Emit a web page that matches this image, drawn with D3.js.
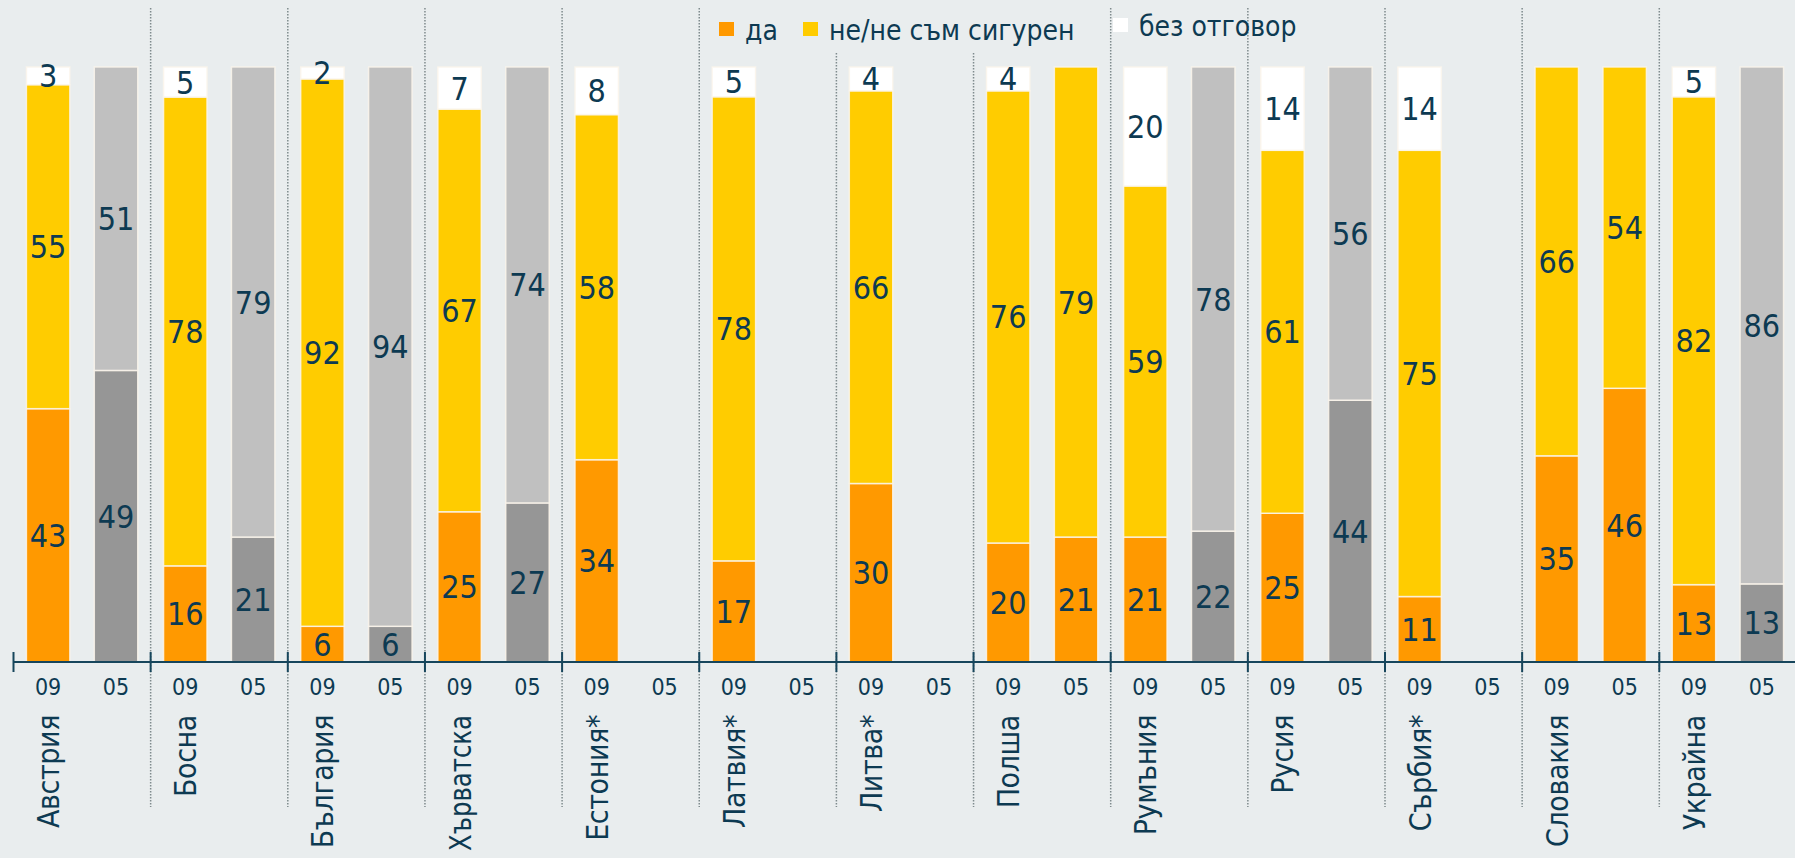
<!DOCTYPE html>
<html>
<head>
<meta charset="utf-8">
<script src="https://cdn.jsdelivr.net/npm/d3@7"></script>
<style>
  html, body { margin: 0; padding: 0; background: #e9edee; }
  svg { display: block; }
  text { font-family: "DejaVu Sans Condensed", "DejaVu Sans", sans-serif; fill: #0d3a52; }
</style>
</head>
<body>
<div id="chart"></div>
<script>
// data (percent)
var countries = ["Австрия", "Босна", "България", "Хърватска", "Естония*", "Латвия*", "Литва*",
                 "Полша", "Румъния", "Русия", "Сърбия*", "Словакия", "Украйна"];
var years = ["09", "05"];

var yes09 = [43, 16, 6, 25, 34, 17, 30, 20, 21, 25, 11, 35, 13];
var unsure09 = [55, 78, 92, 67, 58, 78, 66, 76, 59, 61, 75, 66, 82];
var noAnswer09 = [3, 5, 2, 7, 8, 5, 4, 4, 20, 14, 14, 0, 5];

var yes05 = [49, 21, 6, 27, null, null, null, 21, 22, 44, null, 46, 13];
var unsure05 = [51, 79, 94, 74, null, null, null, 79, 78, 56, null, 54, 86];

var legendLabels = ["да", "не/не съм сигурен", "без отговор"];

// 2005 bars shown in full colour, the rest in grey
var colour05 = ["Полша", "Словакия"];

var width = 1795, height = 858;
var colors = { yes: "#ff9900", unsure: "#ffcc00", none: "#ffffff", yesGrey: "#969696", unsureGrey: "#c0c0c0" };

var svg = d3.select("#chart").append("svg")
    .attr("width", width)
    .attr("height", height);

var x = d3.scaleBand()
    .domain(countries)
    .range([13.5, 13.5 + countries.length * 137.15]);

var xYear = d3.scaleBand()
    .domain(years)
    .range([0, x.bandwidth()])
    .paddingInner(0.36)
    .paddingOuter(0.19);

var y = d3.scaleLinear()
    .domain([0, 100])
    .range([662, 67]);

// build stacked rows, each bar normalised to 100
var rows = [];
countries.forEach(function (c, i) {
  var segs09 = [
    { key: "yes", v: yes09[i], fill: colors.yes },
    { key: "unsure", v: unsure09[i], fill: colors.unsure },
    { key: "none", v: noAnswer09[i], fill: colors.none }
  ];
  rows.push({ country: c, year: "09", segs: segs09 });
  if (yes05[i] != null) {
    var full = colour05.indexOf(c) >= 0;
    rows.push({ country: c, year: "05", segs: [
      { key: "yes", v: yes05[i], fill: full ? colors.yes : colors.yesGrey },
      { key: "unsure", v: unsure05[i], fill: full ? colors.unsure : colors.unsureGrey }
    ]});
  }
});
rows.forEach(function (r) {
  var total = d3.sum(r.segs, function (s) { return s.v; });
  var acc = 0;
  r.segs.forEach(function (s) {
    s.y0 = acc / total * 100;
    acc += s.v;
    s.y1 = acc / total * 100;
  });
});

// dotted separators between countries
svg.append("g")
  .selectAll("line")
  .data(countries.slice(1))
  .enter().append("line")
    .attr("x1", function (d) { return x(d); })
    .attr("x2", function (d) { return x(d); })
    .attr("y1", 8)
    .attr("y2", 807)
    .attr("stroke", "#7f8b8d")
    .attr("stroke-width", 1.5)
    .attr("stroke-dasharray", "1.5,1.5");

// legend background hides the separators under it
svg.append("rect")
    .attr("x", 701).attr("y", 0)
    .attr("width", 407).attr("height", 52)
    .attr("fill", "#e9edee");

var legendPos = [{ x: 719, y: 40 }, { x: 803, y: 40 }, { x: 1113, y: 36 }];
var legendFill = [colors.yes, colors.unsure, colors.none];
var lg = svg.append("g").selectAll("g")
  .data(legendLabels)
  .enter().append("g")
    .attr("transform", function (d, i) { return "translate(" + legendPos[i].x + "," + legendPos[i].y + ")"; });
lg.append("rect")
    .attr("x", 0).attr("y", -18)
    .attr("width", 15).attr("height", 14)
    .attr("fill", function (d, i) { return legendFill[i]; });
lg.append("text")
    .attr("x", 26)
    .attr("font-size", 28)
    .text(function (d) { return d; });

// bars
var bars = svg.append("g")
  .selectAll("g")
  .data(rows)
  .enter().append("g")
    .attr("transform", function (d) { return "translate(" + (x(d.country) + xYear(d.year)) + ",0)"; });

bars.selectAll("rect")
  .data(function (d) { return d.segs.filter(function (s) { return s.v > 0; }); })
  .enter().append("rect")
    .attr("x", 0)
    .attr("width", xYear.bandwidth())
    .attr("y", function (s) { return y(s.y1); })
    .attr("height", function (s) { return y(s.y0) - y(s.y1); })
    .attr("fill", function (s) { return s.fill; })
    .attr("stroke", "rgba(250,245,235,0.85)")
    .attr("stroke-width", 1.5);

bars.selectAll("text")
  .data(function (d) { return d.segs.filter(function (s) { return s.v > 0; }); })
  .enter().append("text")
    .attr("x", xYear.bandwidth() / 2)
    .attr("y", function (s) { return y((s.y0 + s.y1) / 2); })
    .attr("dy", "0.36em")
    .attr("text-anchor", "middle")
    .attr("font-size", 32)
    .text(function (s) { return s.v; });

// axis line + ticks at group borders
var axis = svg.append("g");
axis.append("line")
    .attr("x1", x.range()[0]).attr("x2", width)
    .attr("y1", y(0)).attr("y2", y(0))
    .attr("stroke", "#17465c").attr("stroke-width", 2);
axis.selectAll(".tick")
  .data(countries)
  .enter().append("line")
    .attr("x1", function (d) { return x(d); })
    .attr("x2", function (d) { return x(d); })
    .attr("y1", y(0) - 10).attr("y2", y(0) + 10)
    .attr("stroke", "#17465c").attr("stroke-width", 2);

// year labels
countries.forEach(function (c) {
  axis.append("g").selectAll("text")
    .data(years)
    .enter().append("text")
      .attr("x", function (yr) { return x(c) + xYear(yr) + xYear.bandwidth() / 2; })
      .attr("y", 695)
      .attr("text-anchor", "middle")
      .attr("font-size", 23)
      .text(function (yr) { return yr; });
});

// country names, rotated; squeeze the longest ones so they fit above the bottom edge
var maxLen = 136;
axis.append("g").selectAll("text")
  .data(countries)
  .enter().append("text")
    .attr("transform", function (d) {
      return "translate(" + (x(d) + xYear("09") + xYear.bandwidth() / 2 + 11) + ",715) rotate(-90)";
    })
    .attr("text-anchor", "end")
    .attr("font-size", 30)
    .attr("letter-spacing", "-0.4px")
    .text(function (d) { return d; })
    .each(function () {
      if (this.getComputedTextLength() > maxLen) {
        d3.select(this)
          .attr("letter-spacing", null)
          .attr("textLength", maxLen)
          .attr("lengthAdjust", "spacingAndGlyphs");
      }
    });
</script>
</body>
</html>
